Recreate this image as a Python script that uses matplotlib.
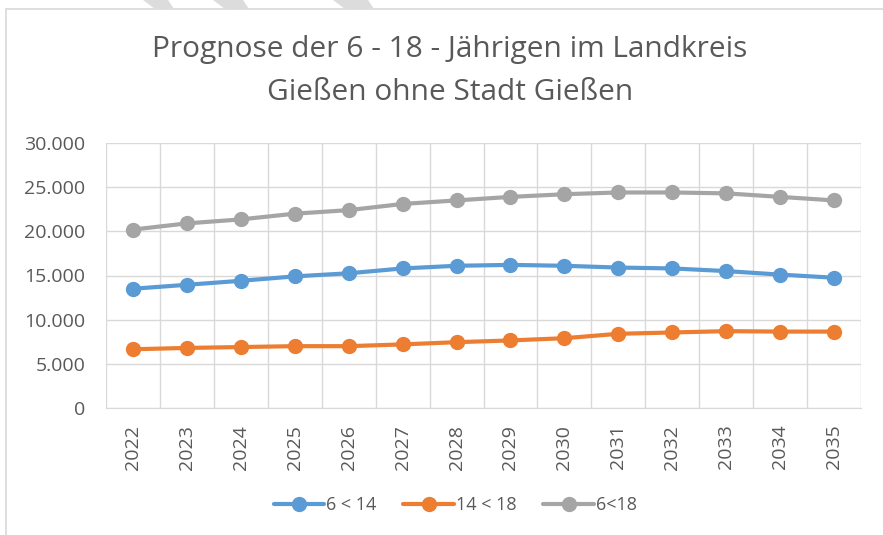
import matplotlib
matplotlib.use("Agg")
import matplotlib.pyplot as plt
from matplotlib.patches import Polygon, Rectangle
from matplotlib.ticker import FuncFormatter

years = [str(y) for y in range(2022, 2036)]
age_6_14 = [13500, 13950, 14400, 14900, 15250, 15800, 16100,
            16200, 16100, 15900, 15800, 15500, 15100, 14750]
age_14_18 = [6650, 6800, 6900, 7000, 7000, 7200, 7450,
             7650, 7900, 8400, 8550, 8700, 8650, 8650]
age_6_18 = [20200, 20900, 21350, 22000, 22400, 23100, 23500,
            23900, 24200, 24400, 24400, 24300, 23900, 23500]
series_labels = ["6 < 14", "14 < 18", "6<18"]

plt.rcParams['font.family'] = ['Open Sans', 'DejaVu Sans']
text_col = '#595959'

fig = plt.figure(figsize=(8.83, 5.35), dpi=100)
W, H = 883, 535

# chart frame (runs off right/bottom) and the light stripes at the top edge
fig.patches.append(Rectangle((6 / W, -0.1), 1, 1.1 - 9 / H, transform=fig.transFigure,
                             fill=False, edgecolor='#d9d9d9', linewidth=1.2))
for x0, x1 in [(143, 168), (213, 243), (333, 368)]:
    fig.patches.append(Polygon([(x0 / W, 1), (x1 / W, 1), ((x1 + 6) / W, 1 - 9 / H),
                                ((x0 + 12) / W, 1 - 9 / H)], closed=True,
                               transform=fig.transFigure, facecolor='#dcdcdc',
                               edgecolor='none'))

ax = fig.add_axes([106 / W, 1 - 408 / H, (861 - 106) / W, (408 - 143) / H])

x = range(len(years))
colors = ['#5B9BD5', '#ED7D31', '#A5A5A5']
for vals, lab, c in zip([age_6_14, age_14_18, age_6_18], series_labels, colors):
    ax.plot(x, vals, color=c, linewidth=3, marker='o', markersize=10, label=lab,
            solid_capstyle='round')

ax.set_xlim(-0.5, len(years) - 0.5)
ax.set_ylim(0, 30000)
ax.set_yticks(range(0, 30001, 5000))
ax.yaxis.set_major_formatter(FuncFormatter(lambda v, p: f"{int(v):,}".replace(',', '.')))
ax.set_xticks(list(x))
ax.set_xticklabels(years, rotation=90)
ax.set_xticks([i - 0.5 for i in range(len(years) + 1)], minor=True)

ax.grid(True, axis='y', color='#d9d9d9', linewidth=1)
ax.grid(True, axis='x', which='minor', color='#d9d9d9', linewidth=1)
ax.set_axisbelow(True)
for s in ['top', 'right', 'left']:
    ax.spines[s].set_visible(False)
ax.spines['bottom'].set_color('#d9d9d9')
ax.tick_params(axis='both', which='both', length=0, colors=text_col, labelsize=14)
ax.tick_params(axis='x', pad=12)
ax.tick_params(axis='y', pad=15)

fig.text(450 / W, 1 - 50 / H, "Prognose der 6 - 18 - Jährigen im Landkreis",
         ha='center', va='center', fontsize=21.5, color=text_col)
fig.text(450 / W, 1 - 93 / H, "Gießen ohne Stadt Gießen",
         ha='center', va='center', fontsize=21.5, color=text_col)

fig.legend(loc='center', bbox_to_anchor=(455 / W, 1 - 505 / H), ncol=3, frameon=False,
           fontsize=13, labelcolor=text_col, handlelength=2.8, columnspacing=1.5,
           handletextpad=0.1)

fig.savefig("out.png", dpi=100)
